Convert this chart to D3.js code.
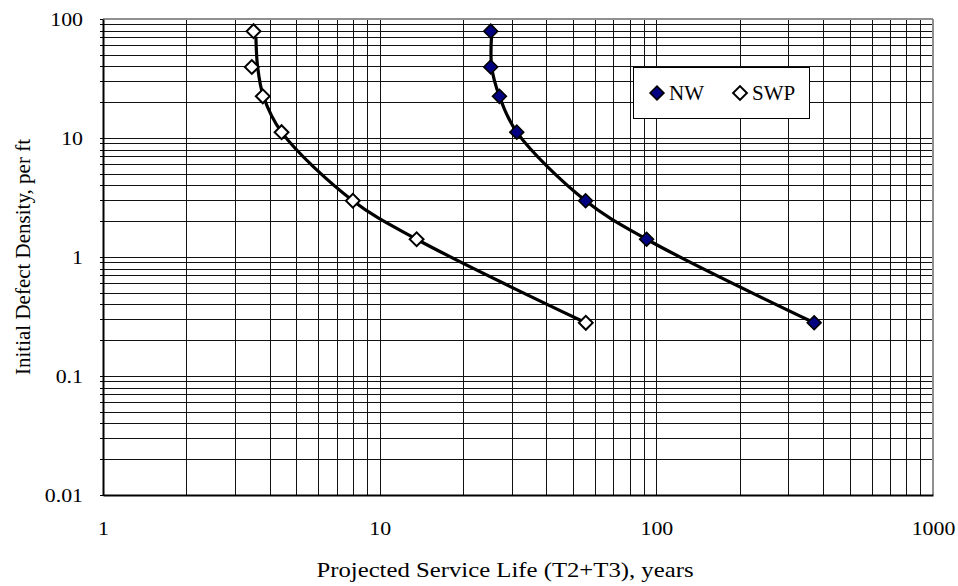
<!DOCTYPE html>
<html>
<head>
<meta charset="utf-8">
<script src="https://cdn.jsdelivr.net/npm/d3@7"></script>
<style>
  body { margin: 0; background: #fff; }
  text { font-family: "Liberation Serif", "Times New Roman", serif; fill: #000; }
</style>
</head>
<body>
<svg id="chart" width="958" height="586"></svg>
<script>
/* data */
var density = [79, 39.5, 22.4, 11.2, 2.97, 1.41, 0.28];
var lifeNW = [25.2, 25.2, 27.1, 31.3, 55.5, 92.2, 372];
var lifeSWP = [3.5, 3.45, 3.78, 4.42, 8.0, 13.6, 55.6];
/* smoothed fit curves */
var fitDensityNW = [76, 39.5, 22.4, 11.2, 2.97, 1.41, 0.28];
var fitLifeNW = [25.4, 25.4, 27.1, 31.3, 55.5, 92.2, 372];
var fitDensitySWP = [71, 40, 22.4, 11.2, 2.97, 1.41, 0.28];
var fitLifeSWP = [3.57, 3.62, 3.8, 4.42, 8.0, 13.6, 55.6];
var xTicks = [1, 10, 100, 1000];
var yTicks = [0.01, 0.1, 1, 10, 100];
var seriesNames = ["NW", "SWP"];

var margin = {top: 19, right: 25, bottom: 91, left: 103};
var width = 958 - margin.left - margin.right,
  height = 586 - margin.top - margin.bottom;

var svg = d3.select("#chart");
var g = svg.append("g")
  .attr("transform", "translate(" + margin.left + "," + margin.top + ")");

var x = d3.scaleLog().domain([1, 1000]).range([0, width]);
var y = d3.scaleLog().domain([0.01, 100]).range([height, 0]);

/* every 1..9 step in each decade */
function logGrid(lo, hi) {
  var out = [];
  for (var d = lo; d < hi; d *= 10)
    for (var k = 1; k < 10; k++) out.push(+(d * k).toPrecision(3));
  out.push(hi);
  return out;
}
var xGrid = logGrid(1, 1000), yGrid = logGrid(0.01, 100);

// stretch text a bit wider, like the picture
function widen(sel, k) {
  sel.each(function() {
    var w = this.getComputedTextLength();
    d3.select(this).attr("textLength", w * k).attr("lengthAdjust", "spacingAndGlyphs");
  });
}

/* grid */
g.append("g")
  .attr("class", "grid")
  .attr("transform", "translate(0," + height + ")")
  .call(d3.axisBottom(x).tickValues(xGrid).tickSizeInner(-height).tickSizeOuter(0).tickFormat(""))
  .call(function(s) { s.select(".domain").remove(); });
g.append("g")
  .attr("class", "grid")
  .call(d3.axisLeft(y).tickValues(yGrid).tickSizeInner(-width).tickSizeOuter(0).tickFormat(""))
  .call(function(s) { s.select(".domain").remove(); });
g.selectAll(".grid line")
  .attr("stroke", "#111").attr("stroke-width", 1)
  .attr("shape-rendering", "crispEdges");

/* frame: top and right gray, left and bottom black */
g.append("line").attr("x1", 0).attr("x2", width).attr("y1", 0).attr("y2", 0)
  .attr("stroke", "#909090").attr("stroke-width", 2);
g.append("line").attr("x1", width).attr("x2", width).attr("y1", 0).attr("y2", height)
  .attr("stroke", "#909090").attr("stroke-width", 2);

/* axes */
var xAxis = g.append("g")
  .attr("transform", "translate(0," + height + ")")
  .call(d3.axisBottom(x).tickValues(xTicks).tickSize(0).tickPadding(27).tickFormat(d3.format("d")));
xAxis.select(".domain").attr("stroke", "#000").attr("stroke-width", 2);
xAxis.selectAll("text").style("font-size", "19px");
widen(xAxis.selectAll("text"), 1.15);

var yAxis = g.append("g")
  .call(d3.axisLeft(y).tickValues(yTicks).tickSize(0).tickPadding(20).tickFormat(function(d) { return d3.format("~g")(d); }));
yAxis.select(".domain").attr("stroke", "#000").attr("stroke-width", 2);
yAxis.selectAll("text").style("font-size", "19px");
widen(yAxis.selectAll("text"), 1.15);

/* small outer ticks on the value axis */
g.append("g")
  .call(d3.axisLeft(y).tickValues(yGrid).tickSizeInner(3).tickSizeOuter(0).tickFormat(""))
  .call(function(s) {
    s.select(".domain").remove();
    s.selectAll("line").attr("stroke", "#000").attr("shape-rendering", "crispEdges");
  });

/* titles */
var xTitle = svg.append("text")
  .attr("x", margin.left + width / 2 - 13)
  .attr("y", 577)
  .attr("text-anchor", "middle")
  .style("font-size", "21.5px")
  .text("Projected Service Life (T2+T3), years");
widen(xTitle, 1.15);

svg.append("text")
  .attr("transform", "translate(30," + (margin.top + height / 2) + ") rotate(-90)")
  .attr("text-anchor", "middle")
  .style("font-size", "21px")
  .text("Initial Defect Density, per ft");

/* fit curves */
var line = d3.line()
  .x(function(d) { return x(d[0]); })
  .y(function(d) { return y(d[1]); })
  .curve(d3.curveCatmullRom.alpha(0.5));

g.append("path")
  .datum(d3.zip(fitLifeSWP, fitDensitySWP))
  .attr("fill", "none").attr("stroke", "#000").attr("stroke-width", 3.2)
  .attr("d", line);
g.append("path")
  .datum(d3.zip(fitLifeNW, fitDensityNW))
  .attr("fill", "none").attr("stroke", "#000").attr("stroke-width", 3.2)
  .attr("d", line);

/* markers */
var diamond = d3.symbol().type(d3.symbolSquare).size(96);

g.selectAll(".nw")
  .data(d3.zip(lifeNW, density))
  .enter().append("path")
  .attr("class", "nw")
  .attr("d", diamond)
  .attr("transform", function(d) { return "translate(" + x(d[0]) + "," + y(d[1]) + ") rotate(45)"; })
  .attr("fill", "#000080").attr("stroke", "#000").attr("stroke-width", 1.6);

g.selectAll(".swp")
  .data(d3.zip(lifeSWP, density))
  .enter().append("path")
  .attr("class", "swp")
  .attr("d", diamond)
  .attr("transform", function(d) { return "translate(" + x(d[0]) + "," + y(d[1]) + ") rotate(45)"; })
  .attr("fill", "#fff").attr("stroke", "#000").attr("stroke-width", 2);

/* legend */
var legend = svg.append("g").attr("transform", "translate(633,67)");
legend.append("rect")
  .attr("width", 176).attr("height", 51)
  .attr("fill", "#fff").attr("stroke", "#000").attr("stroke-width", 1)
  .attr("shape-rendering", "crispEdges");
var legX = [24, 107];
seriesNames.forEach(function(name, i) {
  legend.append("path")
    .attr("d", diamond)
    .attr("transform", "translate(" + legX[i] + ",26) rotate(45)")
    .attr("fill", i == 0 ? "#000080" : "#fff")
    .attr("stroke", "#000").attr("stroke-width", i == 0 ? 1.6 : 2);
  legend.append("text")
    .attr("x", legX[i] + 12)
    .attr("y", 33)
    .style("font-size", "21px")
    .text(name);
});
</script>
</body>
</html>
